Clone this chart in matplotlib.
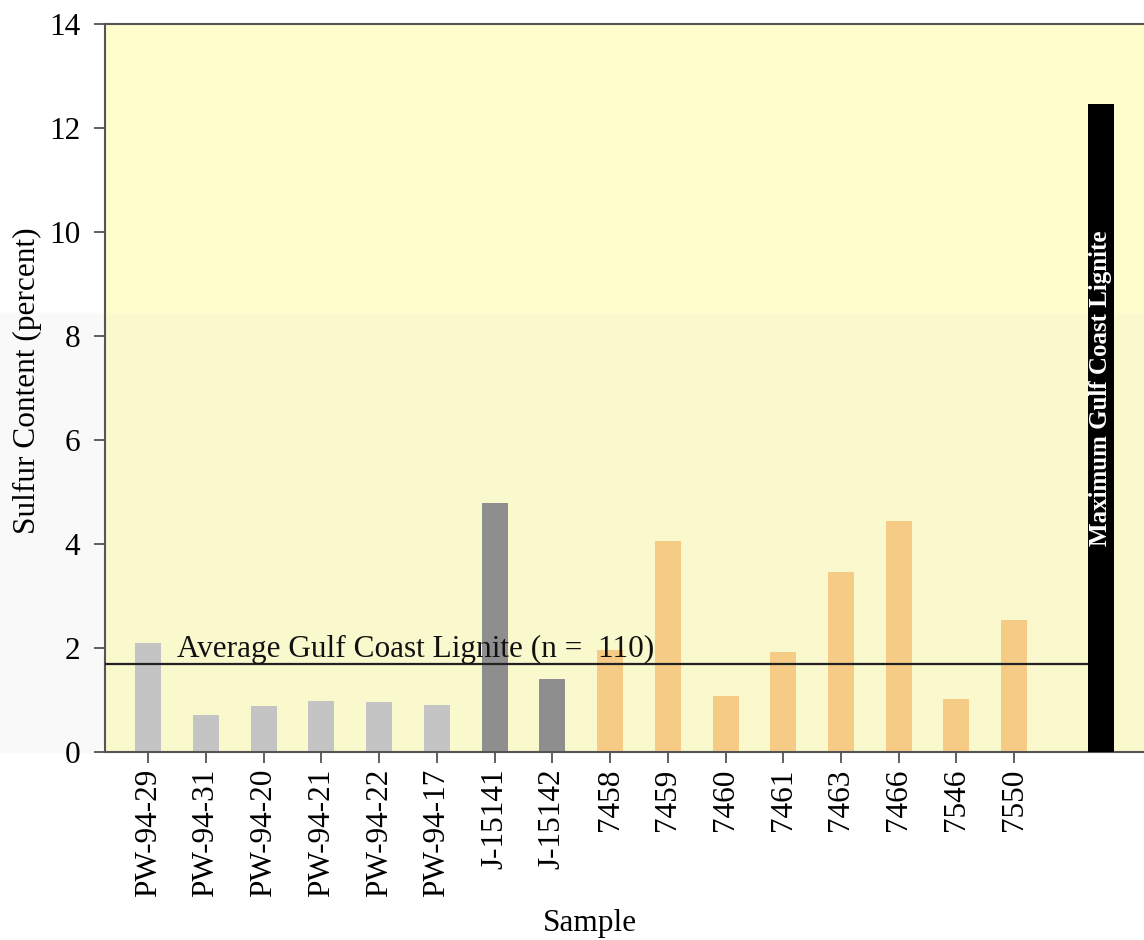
import matplotlib
matplotlib.use('Agg')
import matplotlib.pyplot as plt
from matplotlib.patches import Rectangle

# Contenido de azufre por muestra
muestras = ['PW-94-29', 'PW-94-31', 'PW-94-20', 'PW-94-21', 'PW-94-22', 'PW-94-17',
            'J-15141', 'J-15142',
            '7458', '7459', '7460', '7461', '7463', '7466', '7546', '7550']
azufre = [2.09, 0.72, 0.88, 0.99, 0.97, 0.91,
          4.78, 1.40,
          1.96, 4.06, 1.08, 1.92, 3.46, 4.45, 1.01, 2.54]
grupos = ['pw'] * 6 + ['j'] * 2 + ['usgs'] * 8

promedio_golfo = 1.69
maximo_golfo = 12.47

cores = {'pw': '#c4c4c4', 'j': '#8e8e8e', 'usgs': '#f5cb85'}

plt.rcParams['font.family'] = ['Liberation Serif', 'DejaVu Serif']

fig = plt.figure(figsize=(11.44, 9.40), dpi=100)
# franja gris muy clara del fondo en la mitad inferior
fig.patches.append(Rectangle((0, 0.2), 0.092, 0.467, transform=fig.transFigure,
                             color='#f9f9fa', zorder=-1))
ax = fig.add_axes([0.0918, 0.2, 0.9082, 0.7745])
ax.set_facecolor('#fffdcc')
ax.axhspan(0, 8.44, color='#faf8cd', zorder=0, lw=0)

ancho = 0.45
x = list(range(len(muestras)))
ax.bar(x, azufre, width=ancho, color=[cores[g] for g in grupos], zorder=2)

# barra del máximo de la costa del golfo
x_max = 16.5
ax.bar([x_max], [maximo_golfo], width=ancho, color='black', zorder=4)
ax.text(x_max, 7.0, 'Maximum Gulf Coast Lignite', rotation=90, color='white',
        fontsize=18, fontweight='bold', ha='center', va='center', zorder=5)

# línea del promedio
ax.hlines(promedio_golfo, -0.75, x_max - ancho / 2, color='#222222', lw=1.6, zorder=3)
ax.text(0.5, 1.83, 'Average Gulf Coast Lignite (n =  110)', fontsize=22.5,
        ha='left', va='baseline', color='#111111', zorder=3)

ax.set_xlim(-0.75, 17.25)
ax.set_ylim(0, 14)
ax.set_yticks(range(0, 15, 2))
ax.set_xticks(x)
ax.set_xticklabels(muestras, rotation=90)
ax.tick_params(axis='y', labelsize=22.5, length=8, width=1.2, color='#444444', pad=10)
ax.tick_params(axis='x', labelsize=22.5, length=8, width=1.2, color='#444444', pad=4)

ax.set_ylabel('Sulfur Content (percent)', fontsize=22.5)
ax.set_xlabel('Sample', fontsize=22.5)
ax.yaxis.set_label_coords(-0.061, 0.51)
ax.xaxis.set_label_coords(0.467, -0.215)

for s in ['left', 'top', 'bottom']:
    ax.spines[s].set_color('#555555')
    ax.spines[s].set_linewidth(1.5)
ax.spines['right'].set_visible(False)

fig.savefig('out.png', dpi=100)
